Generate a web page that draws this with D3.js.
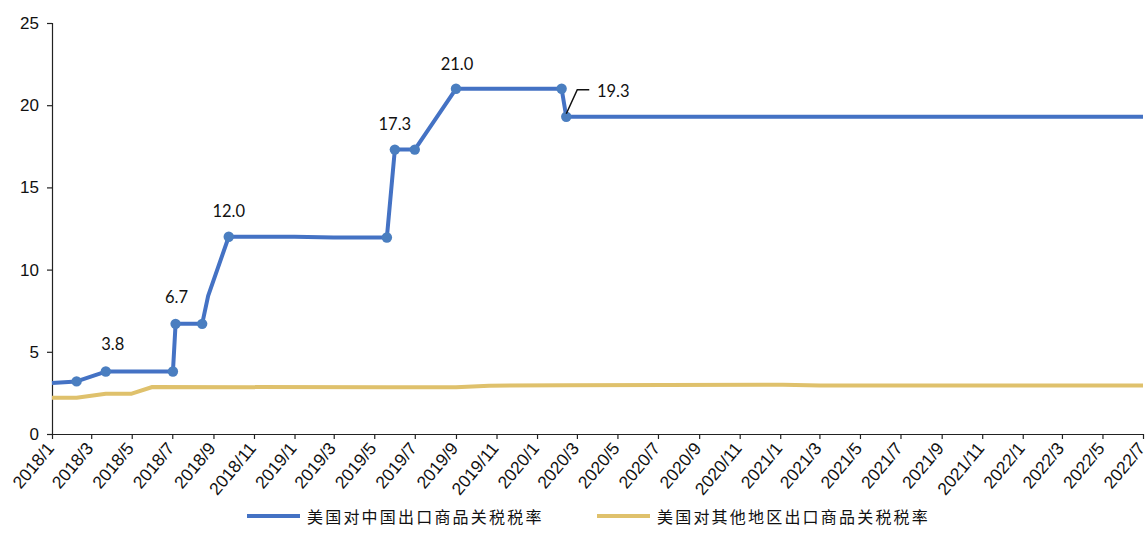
<!DOCTYPE html>
<html>
<head>
<meta charset="utf-8">
<script src="https://cdn.jsdelivr.net/npm/d3@7"></script>
<style>
  html, body { margin: 0; padding: 0; background: #fff; }
  svg { display: block; }
</style>
</head>
<body>
<svg id="chart" width="1147" height="552"></svg>
<script>
// US tariff rates on Chinese exports vs. exports from the rest of the world (%)
const chinaDates = ["2018-01-01", "2018-02-07", "2018-03-23", "2018-07-02", "2018-07-06", "2018-08-15", "2018-08-24",
  "2018-09-24", "2019-01-01", "2019-03-01", "2019-05-20", "2019-06-01", "2019-07-01", "2019-09-01",
  "2020-02-07", "2020-02-14", "2022-07-01"];
const chinaRates = [3.1, 3.2, 3.8, 3.8, 6.7, 6.7, 8.4, 12.0, 12.0, 11.95, 11.95, 17.3, 17.3, 21.0, 21.0, 19.3, 19.3];
const chinaMarked = [false, true, true, true, true, true, false, true, false, false, true, true, true, true, true, true, false];

const otherDates = ["2018-01-01", "2018-02-07", "2018-03-23", "2018-05-01", "2018-06-01", "2019-05-20", "2019-09-01",
  "2019-10-21", "2020-02-14", "2021-01-05", "2021-03-02", "2022-07-01"];
const otherRates = [2.2, 2.2, 2.45, 2.45, 2.86, 2.84, 2.84, 2.94, 2.96, 3.0, 2.95, 2.95];

// value labels on the China series
const labelDates = ["2018-03-23", "2018-07-06", "2018-09-24", "2019-06-01", "2019-09-01", "2020-02-14"];
const labelValues = [3.8, 6.7, 12.0, 17.3, 21.0, 19.3];

const tickMonths = ["2018/1", "2018/3", "2018/5", "2018/7", "2018/9", "2018/11", "2019/1", "2019/3", "2019/5",
  "2019/7", "2019/9", "2019/11", "2020/1", "2020/3", "2020/5", "2020/7", "2020/9", "2020/11", "2021/1",
  "2021/3", "2021/5", "2021/7", "2021/9", "2021/11", "2022/1", "2022/3", "2022/5", "2022/7"];
const yTicks = [0, 5, 10, 15, 20, 25];

const seriesNames = ["美国对中国出口商品关税税率", "美国对其他地区出口商品关税税率"];
const seriesColors = ["#4472C4", "#DFC16C"];
const markerColor = "#4A7EC0";

// label placement relative to each labelled point (text centre)
const labelOffsets = [[7, -28], [1, -27], [0, -26], [0, -26], [1, -25], [47, -26]];

const parse = d3.timeParse("%Y-%m-%d");
const parseMonth = d3.timeParse("%Y/%m");

const svg = d3.select("#chart");
const plotLeft = 52, plotRight = 1143, plotTop = 23, plotBottom = 434;

const x = d3.scaleTime().domain([parse("2018-01-01"), parse("2022-07-01")]).range([plotLeft, plotRight]);
const y = d3.scaleLinear().domain([0, 25]).range([plotBottom, plotTop]);

// y axis
const yAxis = svg.append("g")
  .attr("transform", `translate(${plotLeft},0)`)
  .call(d3.axisLeft(y).tickValues(yTicks).tickSize(5).tickPadding(8).tickFormat(d3.format("d")));
yAxis.select(".domain").attr("stroke", "#222").attr("stroke-width", 1.2);
yAxis.selectAll(".tick line").attr("stroke", "#222").attr("stroke-width", 1.2);
yAxis.selectAll(".tick text")
  .attr("font-family", "Liberation Sans, Arial, sans-serif")
  .attr("font-size", 17).attr("fill", "#111");

// x axis, labels rotated so their ends sit under each tick
const tickDates = tickMonths.map(s => parseMonth(s));
const xAxis = svg.append("g")
  .attr("transform", `translate(0,${plotBottom})`)
  .call(d3.axisBottom(x).tickValues(tickDates).tickSize(5).tickSizeOuter(0)
    .tickFormat((d, i) => tickMonths[i]));
xAxis.select(".domain").attr("stroke", "#222").attr("stroke-width", 1.2);
xAxis.selectAll(".tick line").attr("stroke", "#222").attr("stroke-width", 1.2);
xAxis.selectAll(".tick text")
  .attr("font-family", "Liberation Sans, Arial, sans-serif")
  .attr("font-size", 17.5).attr("fill", "#111")
  .attr("text-anchor", "end")
  .attr("dy", null).attr("y", 0)
  .attr("transform", "translate(-2,11) rotate(-50)")
  .attr("dominant-baseline", "central");

// lines
const line = d3.line().x(d => x(d.date)).y(d => y(d.value)).curve(d3.curveLinear);

const otherData = otherDates.map((d, i) => ({ date: parse(d), value: otherRates[i] }));
const chinaData = chinaDates.map((d, i) => ({ date: parse(d), value: chinaRates[i], marked: chinaMarked[i] }));

svg.append("path").datum(otherData)
  .attr("d", line).attr("fill", "none")
  .attr("stroke", seriesColors[1]).attr("stroke-width", 4).attr("stroke-linejoin", "round");

svg.append("path").datum(chinaData)
  .attr("d", line).attr("fill", "none")
  .attr("stroke", seriesColors[0]).attr("stroke-width", 4).attr("stroke-linejoin", "round");

svg.append("g").selectAll("circle")
  .data(chinaData.filter(d => d.marked))
  .join("circle")
  .attr("cx", d => x(d.date)).attr("cy", d => y(d.value)).attr("r", 5.2)
  .attr("fill", markerColor);

// value labels
const labels = labelDates.map((d, i) => ({ date: parse(d), value: labelValues[i], off: labelOffsets[i] }));
svg.append("g").selectAll("text")
  .data(labels)
  .join("text")
  .attr("x", d => x(d.date) + d.off[0])
  .attr("y", d => y(d.value) + d.off[1])
  .attr("dominant-baseline", "central")
  .attr("text-anchor", "middle")
  .attr("font-family", "Lato, Open Sans, sans-serif")
  .attr("font-size", 16.5).attr("fill", "#111")
  .text(d => d.value.toFixed(1));

// leader line for the last label
const last = labels[labels.length - 1];
const lx = x(last.date), ly = y(last.value);
svg.append("path")
  .attr("d", `M${lx},${ly - 3} L${lx + 11},${ly - 27} L${lx + 23},${ly - 27}`)
  .attr("fill", "none").attr("stroke", "#111").attr("stroke-width", 1.5);

// legend
const legendItems = [{ x: 247, name: seriesNames[0], color: seriesColors[0] },
                     { x: 597, name: seriesNames[1], color: seriesColors[1] }];
const legendY = 516;
const lg = svg.append("g").selectAll("g").data(legendItems).join("g");
lg.append("line")
  .attr("x1", d => d.x).attr("x2", d => d.x + 53)
  .attr("y1", legendY).attr("y2", legendY)
  .attr("stroke", d => d.color).attr("stroke-width", 4);
lg.append("text")
  .attr("x", d => d.x + 60).attr("y", legendY)
  .attr("dominant-baseline", "central")
  .attr("font-family", "Noto Sans CJK SC, sans-serif")
  .attr("font-size", 16).attr("letter-spacing", 2.2).attr("fill", "#111")
  .text(d => d.name);
</script>
</body>
</html>
